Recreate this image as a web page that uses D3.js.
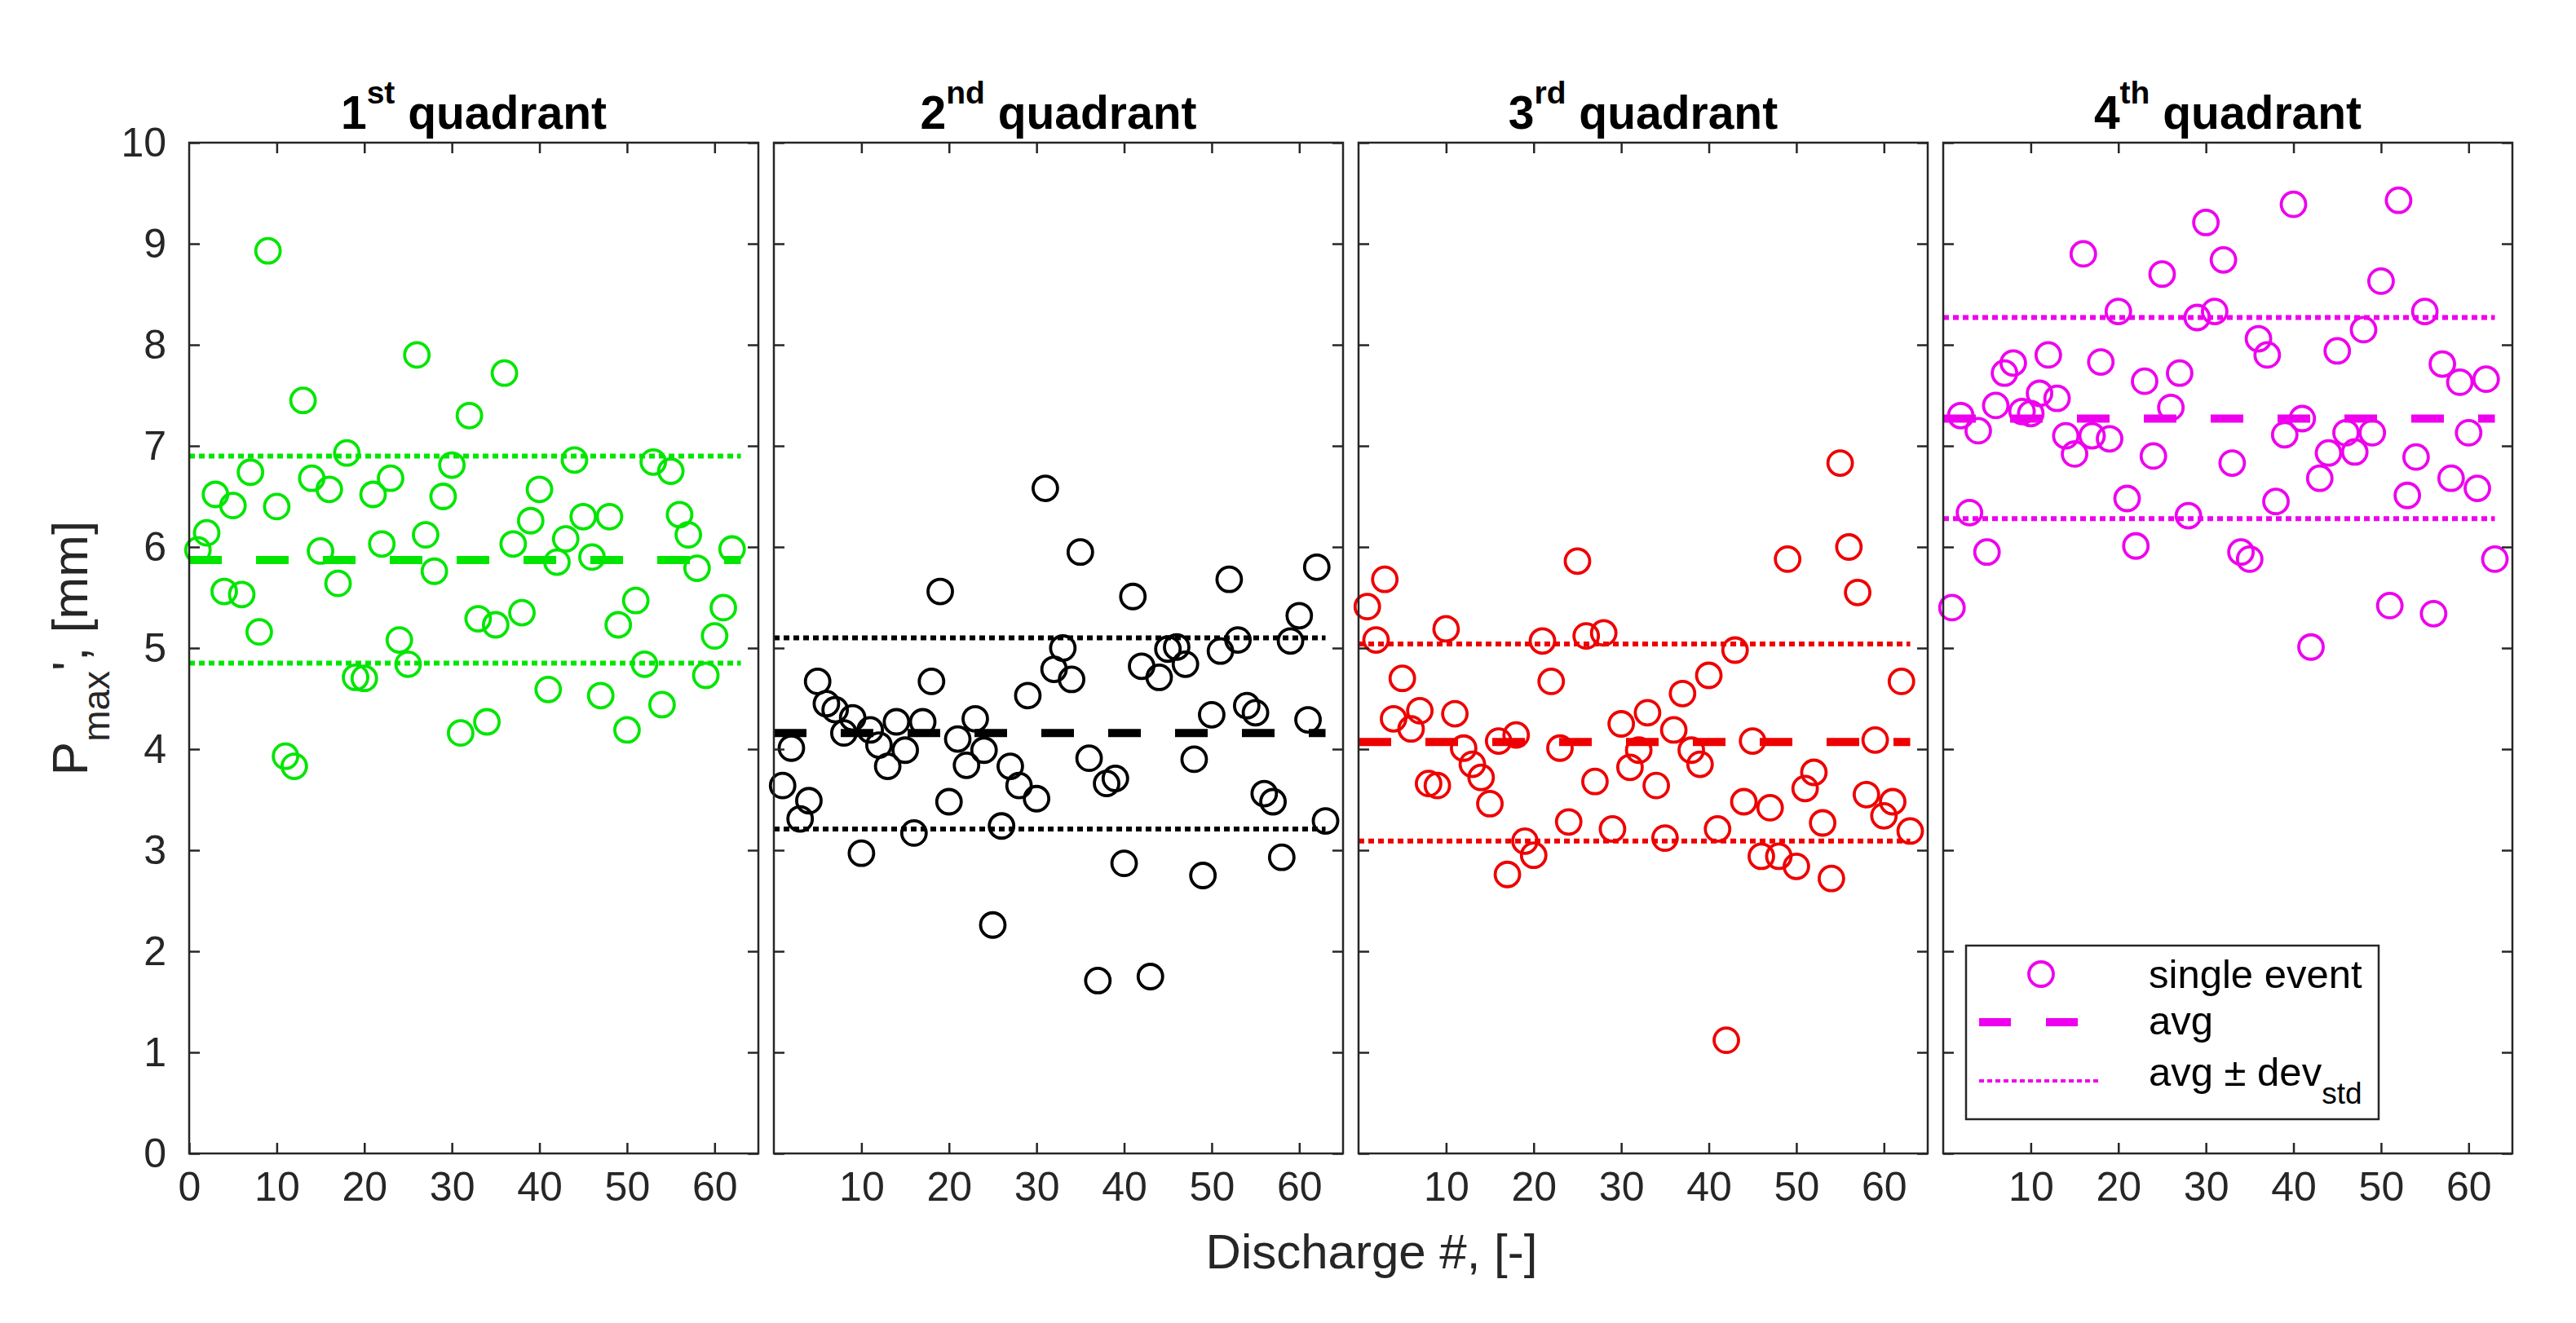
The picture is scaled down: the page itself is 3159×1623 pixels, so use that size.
<!DOCTYPE html>
<html>
<head>
<meta charset="utf-8">
<script src="https://cdn.jsdelivr.net/npm/d3@7"></script>
<style>
    body { margin: 0; background: #fff; }
    text { font-family: "Liberation Sans", Arial, Helvetica, sans-serif; }
</style>
</head>
<body>
<svg id="chart"></svg>
<script>
// Pmax' per discharge (discharge # = index + 1)
const q1Values = [5.97, 6.14, 6.52, 5.56, 6.41, 5.53, 6.74, 5.16, 8.93, 6.40,
    3.93, 3.83, 7.45, 6.68, 5.96, 6.57, 5.64, 6.93, 4.71, 4.70,
    6.52, 6.03, 6.68, 5.08, 4.84, 7.90, 6.12, 5.76, 6.50, 6.81,
    4.16, 7.30, 5.29, 4.27, 5.23, 7.72, 6.03, 5.35, 6.26, 6.57,
    4.59, 5.85, 6.08, 6.86, 6.30, 5.90, 4.53, 6.30, 5.23, 4.19,
    5.47, 4.84, 6.84, 4.44, 6.75, 6.32, 6.12, 5.79, 4.73, 5.12,
    5.40, 5.98];
const q2Values = [3.64, 4.01, 3.31, 3.49, 4.67, 4.45, 4.39, 4.16, 4.31, 2.97,
    4.19, 4.04, 3.83, 4.27, 3.99, 3.17, 4.27, 4.67, 5.56, 3.48,
    4.10, 3.84, 4.30, 3.99, 2.26, 3.24, 3.83, 3.64, 4.53, 3.51,
    6.58, 4.79, 5.00, 4.69, 5.95, 3.91, 1.71, 3.66, 3.71, 2.87,
    5.51, 4.82, 1.75, 4.71, 4.99, 5.01, 4.84, 3.90, 2.75, 4.34,
    4.97, 5.68, 5.08, 4.43, 4.36, 3.56, 3.48, 2.93, 5.07, 5.32,
    4.29, 5.80, 3.29];
const q3Values = [5.41, 5.08, 5.68, 4.30, 4.70, 4.20, 4.38, 3.66, 3.64, 5.19,
    4.35, 4.01, 3.85, 3.72, 3.46, 4.08, 2.76, 4.14, 3.09, 2.95,
    5.07, 4.67, 4.01, 3.28, 5.86, 5.12, 3.68, 5.15, 3.21, 4.25,
    3.82, 3.99, 4.36, 3.64, 3.12, 4.19, 4.55, 3.99, 3.85, 4.73,
    3.21, 1.12, 4.98, 3.48, 4.08, 2.94, 3.42, 2.94, 5.88, 2.84,
    3.61, 3.77, 3.27, 2.72, 6.83, 6.00, 5.55, 3.55, 4.09, 3.34,
    3.48, 4.67, 3.19];
const q4Values = [5.40, 7.30, 6.34, 7.15, 5.95, 7.40, 7.72, 7.82, 7.34, 7.32,
    7.52, 7.90, 7.47, 7.10, 6.92, 8.90, 7.10, 7.83, 7.07, 8.33,
    6.48, 6.01, 7.64, 6.90, 8.70, 7.38, 7.72, 6.31, 8.27, 9.21,
    8.33, 8.84, 6.83, 5.95, 5.88, 8.06, 7.90, 6.45, 7.11, 9.39,
    7.27, 5.01, 6.68, 6.93, 7.94, 7.13, 6.94, 8.15, 7.13, 8.63,
    5.42, 9.43, 6.51, 6.89, 8.33, 5.34, 7.81, 6.68, 7.63, 7.13,
    6.58, 7.66, 5.88];

const avgValues = [5.87, 4.16, 4.07, 7.27];
const upperValues = [6.90, 5.10, 5.04, 8.27];
const lowerValues = [4.85, 3.21, 3.09, 6.28];
const lineSpan = [0, 63];

const titleNums = ["1", "2", "3", "4"];
const titleSups = ["st", "nd", "rd", "th"];
const colors = ["#00e600", "#000000", "#ee0000", "#ee00ee"];

const xTicksFirst = [0, 10, 20, 30, 40, 50, 60];
const xTicksOther = [10, 20, 30, 40, 50, 60];
const yTicks = [0, 1, 2, 3, 4, 5, 6, 7, 8, 9, 10];

const allValues = [q1Values, q2Values, q3Values, q4Values];

// figure layout
const W = 3159, H = 1623;
const plotTop = 175, plotH = 1240, plotW = 698;
const lefts = [232, 949, 1666, 2383];
const axisColor = "#262626";

const svg = d3.select("#chart").attr("width", W).attr("height", H);
svg.append("rect").attr("width", W).attr("height", H).attr("fill", "#fff");

const x = d3.scaleLinear().domain([0, 65]).range([0, plotW]);
const y = d3.scaleLinear().domain([0, 10]).range([plotH, 0]);

function styleAxis(g) {
    g.select(".domain").remove();
    g.selectAll(".tick line").attr("stroke", axisColor).attr("stroke-width", 2.5);
    g.selectAll(".tick text").attr("fill", axisColor).attr("font-size", 50)
        .attr("font-family", '"Liberation Sans", Arial, Helvetica, sans-serif');
}

allValues.forEach(function (vals, i) {
    const g = svg.append("g").attr("transform", `translate(${lefts[i]},${plotTop})`);
    const col = colors[i];

    // single events
    g.selectAll("circle.ev")
        .data(vals)
        .join("circle")
        .attr("class", "ev")
        .attr("cx", (d, k) => x(k + 1))
        .attr("cy", d => y(d))
        .attr("r", 15)
        .attr("fill", "none")
        .attr("stroke", col)
        .attr("stroke-width", 3.8);

    // average line
    g.append("line")
        .attr("x1", x(lineSpan[0])).attr("x2", x(lineSpan[1]))
        .attr("y1", y(avgValues[i])).attr("y2", y(avgValues[i]))
        .attr("stroke", col).attr("stroke-width", 10)
        .attr("stroke-dasharray", "40,42");

    // avg +/- std
    [upperValues[i], lowerValues[i]].forEach(function (v) {
        g.append("line")
            .attr("x1", x(lineSpan[0])).attr("x2", x(lineSpan[1]))
            .attr("y1", y(v)).attr("y2", y(v))
            .attr("stroke", col).attr("stroke-width", 6)
            .attr("stroke-dasharray", "7,5");
    });

    // axes, ticks pointing inward on all four sides
    const bottom = g.append("g")
        .attr("transform", `translate(0,${plotH})`)
        .call(d3.axisBottom(x).tickValues(i === 0 ? xTicksFirst : xTicksOther)
            .tickSizeInner(-13).tickSizeOuter(0).tickPadding(22));
    styleAxis(bottom);

    const topAx = g.append("g")
        .call(d3.axisTop(x).tickValues(xTicksFirst.slice(1)).tickSizeInner(-13).tickSizeOuter(0).tickFormat(""));
    styleAxis(topAx);

    const left = g.append("g")
        .call(d3.axisLeft(y).tickValues(yTicks).tickSizeInner(-13).tickSizeOuter(0).tickPadding(28)
            .tickFormat(i === 0 ? d3.format("d") : ""));
    styleAxis(left);

    const right = g.append("g")
        .attr("transform", `translate(${plotW},0)`)
        .call(d3.axisRight(y).tickValues(yTicks).tickSizeInner(-13).tickSizeOuter(0).tickFormat(""));
    styleAxis(right);

    // box
    g.append("rect")
        .attr("width", plotW).attr("height", plotH)
        .attr("fill", "none").attr("stroke", axisColor).attr("stroke-width", 2.5);

    // title
    const t = g.append("text")
        .attr("x", plotW / 2).attr("y", -17)
        .attr("text-anchor", "middle")
        .attr("font-weight", "bold").attr("font-size", 57).attr("fill", "#000");
    t.append("tspan").text(titleNums[i]);
    t.append("tspan").attr("font-size", 39).attr("dy", -31).text(titleSups[i]);
    t.append("tspan").attr("dy", 31).text("\u00a0quadrant");

    // legend in the last panel
    if (i === 3) {
        const lg = g.append("g");
        lg.append("rect")
            .attr("x", 28).attr("y", 985).attr("width", 506).attr("height", 213)
            .attr("fill", "#fff").attr("stroke", axisColor).attr("stroke-width", 2.5);
        lg.append("circle")
            .attr("cx", 120).attr("cy", 1020).attr("r", 15)
            .attr("fill", "none").attr("stroke", col).attr("stroke-width", 3.8);
        lg.append("line")
            .attr("x1", 44).attr("x2", 166).attr("y1", 1079).attr("y2", 1079)
            .attr("stroke", col).attr("stroke-width", 10).attr("stroke-dasharray", "39,43");
        lg.append("line")
            .attr("x1", 44).attr("x2", 193).attr("y1", 1151).attr("y2", 1151)
            .attr("stroke", col).attr("stroke-width", 4).attr("stroke-dasharray", "6,4");

        const labels = [["single event", 1037], ["avg", 1094]];
        labels.forEach(function (l) {
            lg.append("text").attr("x", 252).attr("y", l[1])
                .attr("font-size", 49).attr("fill", "#000").text(l[0]);
        });
        const dev = lg.append("text").attr("x", 252).attr("y", 1157)
            .attr("font-size", 49).attr("fill", "#000");
        dev.append("tspan").text("avg \u00b1 dev");
        dev.append("tspan").attr("font-size", 37).attr("dy", 22).text("std");
    }
});

// y axis label
const yl = svg.append("text")
    .attr("transform", "translate(107,795) rotate(-90)")
    .attr("text-anchor", "middle")
    .attr("font-size", 62).attr("fill", axisColor);
yl.append("tspan").text("P");
yl.append("tspan").attr("font-size", 46).attr("dy", 27).text("max");
yl.append("tspan").attr("dy", -27).text("', [mm]");

// x axis label
svg.append("text")
    .attr("x", 1682).attr("y", 1556)
    .attr("text-anchor", "middle")
    .attr("font-size", 60).attr("fill", axisColor)
    .text("Discharge #, [-]");
</script>
</body>
</html>
